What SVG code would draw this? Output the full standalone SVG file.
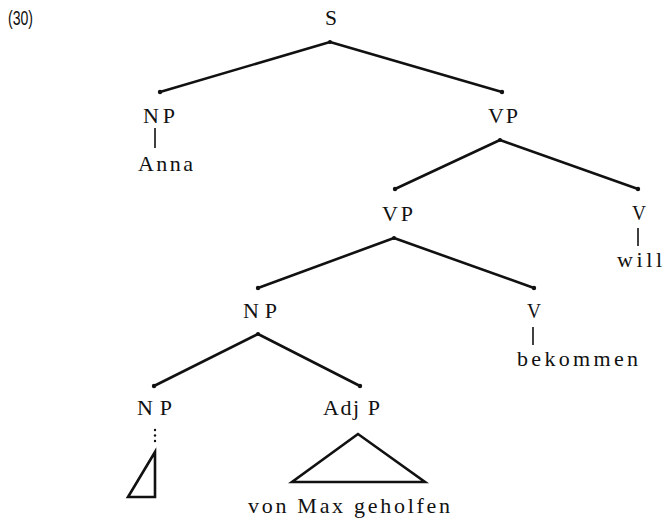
<svg xmlns="http://www.w3.org/2000/svg" width="664" height="518" viewBox="0 0 664 518">
<style>
.lbl{font-family:'Liberation Serif','Times New Roman','DejaVu Serif',serif;font-size:22px;fill:#111}
.num{font-family:'Liberation Sans',Arial,sans-serif;font-size:20px;fill:#111}
.edge{stroke:#111;stroke-width:2.6;stroke-linecap:round;fill:none}
.bar{stroke:#111;stroke-width:1.6;fill:none}
.tri{stroke:#111;stroke-width:2.6;stroke-linejoin:miter;fill:none}
.dot{fill:#111}
</style>
<rect width="664" height="518" fill="#fff"/>
<text class="num" x="8" y="25" textLength="25" lengthAdjust="spacingAndGlyphs">(30)</text>
<g id="connectors">
<line class="edge" x1="330" y1="42" x2="160" y2="92"/>
<line class="edge" x1="330" y1="42" x2="502" y2="92"/>
<line class="edge" x1="500" y1="140" x2="395" y2="189"/>
<line class="edge" x1="500" y1="140" x2="638" y2="189"/>
<line class="edge" x1="394" y1="238" x2="258" y2="288"/>
<line class="edge" x1="394" y1="238" x2="534" y2="288"/>
<line class="edge" x1="258" y1="334" x2="154" y2="386"/>
<line class="edge" x1="258" y1="334" x2="360" y2="386"/>
<line class="bar" x1="155" y1="128" x2="155" y2="148"/>
<line class="bar" x1="638" y1="228" x2="638" y2="246"/>
<line class="bar" x1="533" y1="327" x2="533" y2="345"/>
<circle class="dot" cx="155" cy="430" r="1.2"/>
<circle class="dot" cx="155" cy="435.5" r="1.2"/>
<circle class="dot" cx="155" cy="441" r="1.2"/>
<circle class="dot" cx="330" cy="42" r="2"/>
<circle class="dot" cx="160" cy="92" r="2.2"/>
<circle class="dot" cx="502" cy="92" r="2.2"/>
<circle class="dot" cx="500" cy="140" r="2"/>
<circle class="dot" cx="395" cy="189" r="2.2"/>
<circle class="dot" cx="638" cy="189" r="2.2"/>
<circle class="dot" cx="394" cy="238" r="2"/>
<circle class="dot" cx="258" cy="288" r="2.2"/>
<circle class="dot" cx="534" cy="288" r="2.2"/>
<circle class="dot" cx="258" cy="334" r="2"/>
<circle class="dot" cx="154" cy="386" r="2.2"/>
<circle class="dot" cx="360" cy="386" r="2.2"/>
</g>
<g id="node-S"><text class="lbl" x="325" y="25" textLength="12" lengthAdjust="spacingAndGlyphs">S</text></g>
<g id="node-NP1"><text class="lbl" x="143" y="123" textLength="32" lengthAdjust="spacing">NP</text></g>
<g id="node-Anna"><text class="lbl" x="138" y="171" textLength="55" lengthAdjust="spacing">Anna</text></g>
<g id="node-VP1"><text class="lbl" x="488" y="123" textLength="30" lengthAdjust="spacing">VP</text></g>
<g id="node-VP2"><text class="lbl" x="382" y="221" textLength="31" lengthAdjust="spacing">VP</text></g>
<g id="node-V1"><text class="lbl" x="632" y="220" textLength="14" lengthAdjust="spacingAndGlyphs">V</text></g>
<g id="node-will"><text class="lbl" x="617" y="267" textLength="45" lengthAdjust="spacing">will</text></g>
<g id="node-NP2"><text class="lbl" x="243" y="318" textLength="34" lengthAdjust="spacing">NP</text></g>
<g id="node-V2"><text class="lbl" x="527" y="318" textLength="14" lengthAdjust="spacingAndGlyphs">V</text></g>
<g id="node-bekommen"><text class="lbl" x="517" y="366" textLength="121" lengthAdjust="spacing">bekommen</text></g>
<g id="node-NP3"><text class="lbl" x="137" y="415" textLength="35" lengthAdjust="spacing">NP</text>
<polygon class="tri" points="155,452 128,497 155,497"/></g>
<g id="node-AdjP"><text class="lbl" x="323" y="415" textLength="57" lengthAdjust="spacing">Adj P</text>
<polygon class="tri" points="358,434 292,482 425,482"/>
<text class="lbl" x="248" y="513" textLength="202" lengthAdjust="spacing">von Max geholfen</text></g>
</svg>
